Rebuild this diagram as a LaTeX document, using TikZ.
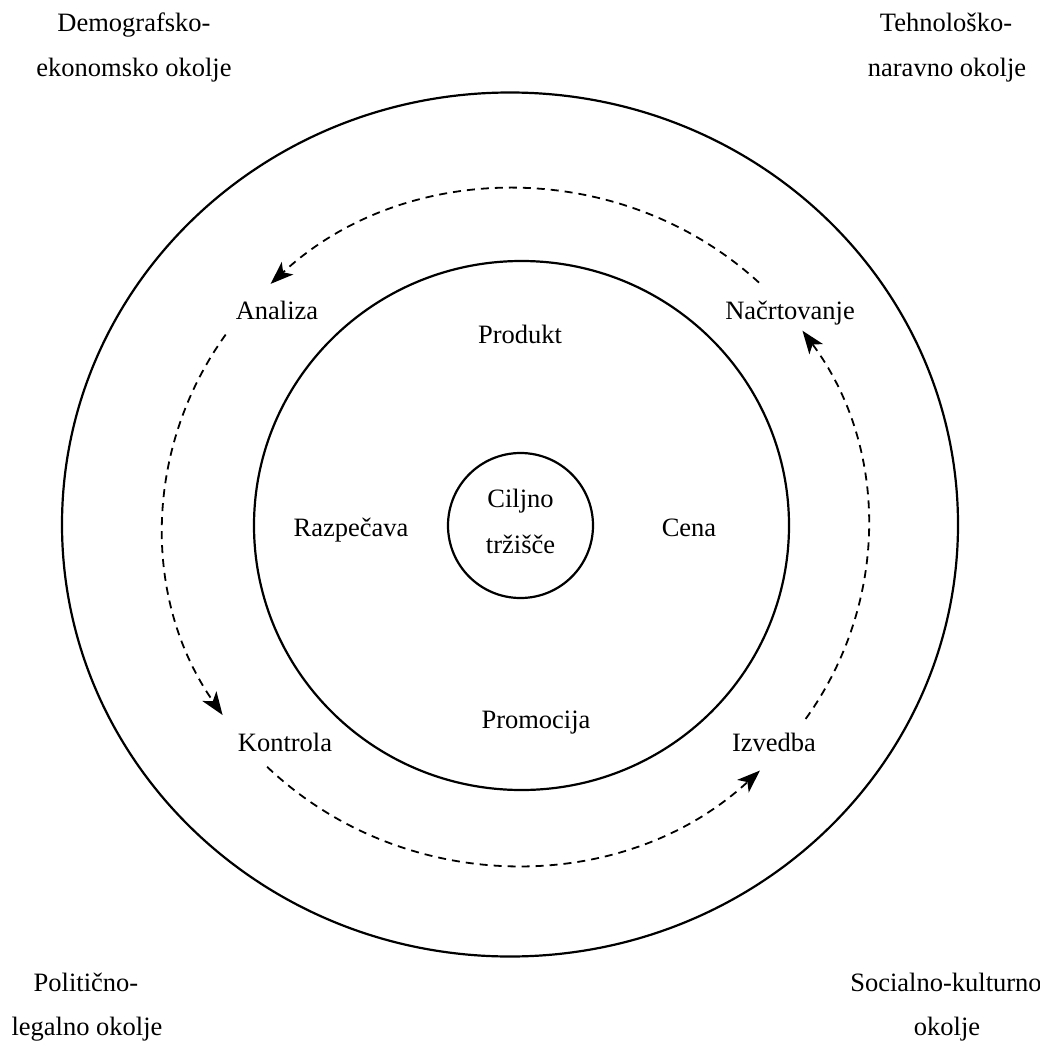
\documentclass[tikz,border=0pt]{standalone}
\usepackage{fontspec}
\setmainfont{Liberation Serif}
\usetikzlibrary{arrows.meta}
\begin{document}
\begin{tikzpicture}[x=1pt,y=1pt,
  lbl/.style={font=\fontsize{26.5}{32}\selectfont, inner sep=0pt, align=center,
    text height=18pt, text depth=6pt},
  ring/.style={draw=black, line width=2.2pt},
  flow/.style={draw=black, line width=1.8pt, dash pattern=on 8pt off 6pt,
    -{Stealth[length=23pt,width=17pt,inset=6pt]}},
  cycarc/.style={x radius=352.5, y radius=338}]
\useasboundingbox (0,0) rectangle (1040,-1044);

% rings
\draw[ring] (510,-524.5) ellipse [x radius=448, y radius=432];
\draw[ring] (521.5,-525.5) ellipse [x radius=267.5, y radius=264.5];
\node[ring, circle, minimum size=145pt, inner sep=0pt] (core) at (520.5,-525.5) {};

% centre label
\node[lbl] (cilj) at (520.5,-501) {Ciljno};
\node[lbl] (trz) at (520.5,-547) {tržišče};

% marketing mix
\node[lbl] (produkt) at (520,-337) {Produkt};
\node[lbl] (razp) at (351,-530) {Razpečava};
\node[lbl] (cena) at (689,-530) {Cena};
\node[lbl] (promo) at (536,-722) {Promocija};

% management cycle
\node[lbl] (analiza) at (277,-313) {Analiza};
\node[lbl] (nacrt) at (790,-313) {Načrtovanje};
\node[lbl] (kontrola) at (285,-745) {Kontrola};
\node[lbl] (izvedba) at (774,-745) {Izvedba};

% environments
\node[lbl] (demo1) at (134,-25) {Demografsko-};
\node[lbl] (demo2) at (134,-70) {ekonomsko okolje};
\node[lbl] (teh1) at (946,-25) {Tehnološko-};
\node[lbl] (teh2) at (947,-70) {naravno okolje};
\node[lbl] (pol1) at (86,-985) {Politično-};
\node[lbl] (pol2) at (87,-1029) {legalno okolje};
\node[lbl] (soc1) at (946,-985) {Socialno-kulturno};
\node[lbl] (soc2) at (947,-1029) {okolje};

% cycle arcs on a common ellipse
\coordinate (cyc) at (515.5,-527);
\coordinate (nacrtOut) at ([shift={(46.3:352.5 and 338)}]cyc);
\coordinate (analizaOut) at ([shift={(145.3:352.5 and 338)}]cyc);
\coordinate (kontrolaOut) at ([shift={(225.2:352.5 and 338)}]cyc);
\coordinate (izvedbaOut) at ([shift={(325.4:352.5 and 338)}]cyc);

\draw[flow] (nacrtOut) arc[cycarc, start angle=46.3, end angle=134];
\draw[flow] (analizaOut) arc[cycarc, start angle=145.3, end angle=213.8];
\draw[flow] (kontrolaOut) arc[cycarc, start angle=225.2, end angle=313.9];
\draw[flow] (izvedbaOut) arc[cycarc, start angle=325.4, end angle=395.5];
\end{tikzpicture}
\end{document}
